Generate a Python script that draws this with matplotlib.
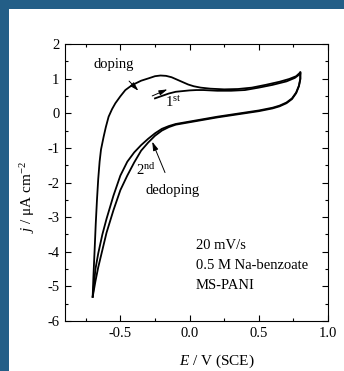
import matplotlib
matplotlib.use('Agg')
import matplotlib.pyplot as plt
from matplotlib.patches import Rectangle
from matplotlib.ticker import MultipleLocator

plt.rcParams['font.family'] = ['Liberation Serif', 'DejaVu Serif']
plt.rcParams['mathtext.fontset'] = 'custom'
plt.rcParams['mathtext.rm'] = 'Liberation Serif'
plt.rcParams['mathtext.it'] = 'Liberation Serif:italic'

# cycle 2, anodic (doping) sweep
E2_up = [-0.70, -0.695, -0.69, -0.686, -0.678, -0.669, -0.660, -0.650, -0.640, -0.621,
         -0.605, -0.585, -0.56, -0.536, -0.50, -0.464, -0.43, -0.391, -0.35, -0.295,
         -0.25, -0.21, -0.17, -0.13, -0.09, -0.05, -0.01, 0.03, 0.08, 0.15,
         0.25, 0.35, 0.45, 0.55, 0.65, 0.72, 0.77, 0.80]
j2_up = [-5.30, -4.75, -4.30, -3.95, -3.20, -2.50, -1.90, -1.40, -1.05, -0.68,
         -0.40, -0.10, 0.12, 0.29, 0.49, 0.67, 0.77, 0.86, 0.94, 1.01,
         1.07, 1.09, 1.08, 1.04, 0.97, 0.90, 0.83, 0.78, 0.74, 0.71,
         0.69, 0.70, 0.74, 0.82, 0.91, 0.99, 1.07, 1.18]

# cathodic (dedoping) sweep, shared potentials
E_down = [0.80, 0.80, 0.79, 0.77, 0.74, 0.70, 0.65, 0.60, 0.50, 0.40,
          0.30, 0.20, 0.10, 0.00, -0.10, -0.15, -0.20, -0.25, -0.30, -0.35,
          -0.40, -0.45, -0.50, -0.55, -0.60, -0.63, -0.66, -0.68, -0.70]
j2_down = [1.18, 1.00, 0.80, 0.60, 0.43, 0.31, 0.22, 0.16, 0.08, 0.02,
           -0.04, -0.10, -0.17, -0.24, -0.31, -0.37, -0.45, -0.58, -0.74, -0.92,
           -1.13, -1.40, -1.80, -2.38, -3.05, -3.50, -4.05, -4.50, -5.30]

# cycle 1
E1_up = [-0.25, -0.20, -0.15, -0.10, -0.05, 0.00, 0.05, 0.10, 0.20, 0.30,
         0.40, 0.50, 0.60, 0.70, 0.76, 0.80]
j1_up = [0.43, 0.50, 0.57, 0.62, 0.64, 0.66, 0.67, 0.67, 0.65, 0.65,
         0.67, 0.74, 0.82, 0.92, 1.02, 1.14]
j1_down = [1.14, 0.98, 0.78, 0.58, 0.41, 0.29, 0.20, 0.14, 0.06, 0.00,
           -0.06, -0.12, -0.19, -0.26, -0.33, -0.40, -0.50, -0.65, -0.85, -1.08,
           -1.42, -1.80, -2.22, -2.80, -3.45, -3.95, -4.45, -4.85, -5.30]

W, H = 344, 371
fig = plt.figure(figsize=(W/100, H/100), dpi=100, facecolor='#235e87')
fig.patches.append(Rectangle((9/W, 0), 1 - 9/W, (H - 9)/H, transform=fig.transFigure,
                             facecolor='white', edgecolor='none', zorder=-10))
ax = fig.add_axes([65/W, (H - 321)/H, 263/W, 277/H])
ax.set_zorder(1)

lw = 1.3
ax.plot(E2_up, j2_up, color='black', lw=lw)
ax.plot(E_down, j2_down, color='black', lw=lw)
ax.plot(E1_up, j1_up, color='black', lw=lw)
ax.plot(E_down, j1_down, color='black', lw=lw)

ax.set_xlim(-0.9, 1.0)
ax.set_ylim(-6, 2)
ax.xaxis.set_minor_locator(MultipleLocator(0.25))
ax.yaxis.set_minor_locator(MultipleLocator(0.5))
ax.set_xticks([-0.5, 0.0, 0.5, 1.0])
ax.set_xticklabels(['-0.5', '0.0', '0.5', '1.0'])
ax.set_yticks(range(-6, 3))
ax.set_yticklabels([str(v) for v in range(-6, 3)])
ax.tick_params(which='both', direction='in', top=True, right=True, labelsize=10.5, width=0.8)
ax.tick_params(which='major', length=4, pad=4)
ax.tick_params(which='minor', length=2)
for s in ax.spines.values():
    s.set_linewidth(0.8)

ax.set_xlabel('$E$ / V (SCE)', fontsize=11, va='center')
ax.xaxis.set_label_coords(0.578, -0.146)
ax.set_ylabel('$j$ / μA cm$^{-2}$', fontsize=11, va='center')
ax.yaxis.set_label_coords(-0.141, 0.448)

fs = 10.5
arr = dict(arrowstyle='-|>,head_length=0.5,head_width=0.15', color='black', lw=0.7,
           shrinkA=0, shrinkB=0)
ax.annotate('doping', xy=(-0.37, 0.65), xytext=(-0.55, 1.40), fontsize=fs,
            ha='center', va='center', arrowprops=dict(arr, shrinkA=7))
ax.annotate('', xy=(-0.16, 0.69), xytext=(-0.27, 0.50), arrowprops=arr)
ax.text(-0.175, 0.30, '1$^{\\mathrm{st}}$', fontsize=fs, ha='left', va='center')
ax.annotate('dedoping', xy=(-0.27, -0.82), xytext=(-0.123, -2.24), fontsize=fs,
            ha='center', va='center', arrowprops=dict(arr, shrinkA=7))
ax.text(-0.385, -1.64, '2$^{\\mathrm{nd}}$', fontsize=fs, ha='left', va='center')

ax.text(0.043, -3.81, '20 mV/s', fontsize=fs, ha='left', va='center')
ax.text(0.043, -4.39, '0.5 M Na-benzoate', fontsize=fs, ha='left', va='center')
ax.text(0.043, -4.97, 'MS-PANI', fontsize=fs, ha='left', va='center')

fig.savefig('out.png', dpi=100, facecolor=fig.get_facecolor())
